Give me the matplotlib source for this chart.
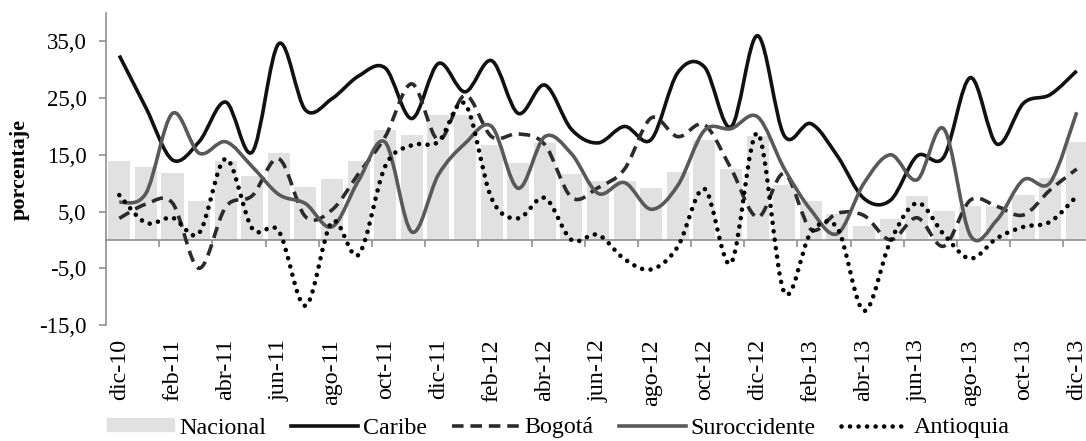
import matplotlib
matplotlib.use('Agg')
import matplotlib.pyplot as plt
import numpy as np
from matplotlib.lines import Line2D
from matplotlib.patches import PathPatch
from matplotlib.path import Path

plt.rcParams['font.family'] = ['Liberation Serif', 'DejaVu Serif']

months = ['dic-10', 'ene-11', 'feb-11', 'mar-11', 'abr-11', 'may-11', 'jun-11',
          'jul-11', 'ago-11', 'sep-11', 'oct-11', 'nov-11', 'dic-11', 'ene-12',
          'feb-12', 'mar-12', 'abr-12', 'may-12', 'jun-12', 'jul-12', 'ago-12',
          'sep-12', 'oct-12', 'nov-12', 'dic-12', 'ene-13', 'feb-13', 'mar-13',
          'abr-13', 'may-13', 'jun-13', 'jul-13', 'ago-13', 'sep-13', 'oct-13',
          'nov-13', 'dic-13']

nacional = [13.9, 12.8, 11.8, 6.9, 13.9, 11.2, 15.4, 9.4, 10.7, 13.9, 19.3,
            18.5, 22.0, 22.1, 16.8, 13.5, 17.0, 11.6, 10.3, 10.4, 9.1, 11.9,
            17.7, 12.5, 18.3, 9.7, 6.9, 4.6, 2.5, 3.7, 7.7, 5.1, 5.9, 5.9,
            8.0, 11.0, 17.2]
caribe = [32.5, 23.3, 14.1, 17.3, 24.3, 15.5, 34.6, 22.9, 24.9, 28.9, 30.3,
          21.4, 31.1, 26.1, 31.6, 22.3, 27.3, 19.5, 17.1, 20.0, 17.7, 29.5,
          30.5, 19.9, 36.0, 18.4, 20.5, 14.8, 7.3, 7.0, 14.8, 14.6, 28.6, 16.9,
          24.1, 25.6, 29.8]
bogota = [3.8, 6.3, 6.5, -5.0, 5.8, 7.8, 14.3, 4.1, 5.3, 11.7, 18.2, 27.5,
          17.6, 25.5, 18.2, 18.7, 16.8, 7.5, 9.2, 12.5, 21.5, 18.2, 20.3, 12.6,
          4.0, 11.7, 1.9, 4.7, 4.3, 0.0, 3.9, -1.1, 7.0, 5.9, 4.4, 8.8, 12.5]
suroccidente = [6.6, 8.2, 22.3, 15.3, 17.3, 12.9, 8.0, 6.4, 2.3, 10.5, 17.2,
                1.4, 11.5, 17.0, 20.0, 9.1, 18.2, 15.2, 8.2, 10.1, 5.4, 9.6,
                19.3, 19.6, 21.7, 12.6, 5.3, 1.1, 10.0, 15.0, 10.6, 19.6, 0.8,
                3.5, 10.6, 10.1, 22.5]
antioquia = [7.9, 3.0, 3.9, 1.2, 14.3, 2.0, 1.5, -11.6, 3.2, -2.6, 13.0, 16.7,
             17.3, 24.0, 7.3, 3.8, 7.4, 0.0, 0.9, -3.4, -5.2, -1.2, 9.0, -4.1,
             18.8, -9.2, 1.2, 2.1, -12.5, -0.2, 6.5, 1.0, -3.3, 0.3, 2.3, 3.2,
             7.7]

yticks = [-15, -5, 5, 15, 25, 35]

AXIS_GRAY = '#868686'


def smooth_path(x, y):
    # Excel-like smoothed line: cubic bezier segments through every point
    x = np.asarray(x, dtype=float)
    y = np.asarray(y, dtype=float)
    px = np.concatenate([[x[0]], x, [x[-1]]])
    py = np.concatenate([[y[0]], y, [y[-1]]])
    verts = [(x[0], y[0])]
    codes = [Path.MOVETO]
    for i in range(len(x) - 1):
        c1 = (x[i] + (x[i + 1] - px[i]) / 6, y[i] + (y[i + 1] - py[i]) / 6)
        c2 = (x[i + 1] - (px[i + 3] - x[i]) / 6,
              y[i + 1] - (py[i + 3] - y[i]) / 6)
        verts += [c1, c2, (x[i + 1], y[i + 1])]
        codes += [Path.CURVE4] * 3
    return Path(verts, codes)


fig = plt.figure(figsize=(10.86, 4.41), dpi=100)
ax = fig.add_axes([106 / 1086, 1 - 325 / 441, 984 / 1086, 312 / 441])

x = np.arange(len(months))
ax.bar(x, nacional, width=0.83, color='#e1e1e1', zorder=1)

styles = [
    (caribe, dict(edgecolor='#111111', lw=2.6, linestyle='-')),
    (bogota, dict(edgecolor='#2b2b2b', lw=2.6, linestyle=(0, (3.2, 1.9)))),
    (suroccidente, dict(edgecolor='#595959', lw=2.6, linestyle='-')),
    (antioquia, dict(edgecolor='#000000', lw=3.3,
                     linestyle=(0, (0.01, 1.85)), capstyle='round')),
]
for vals, kw in styles:
    ax.add_patch(PathPatch(smooth_path(x, vals), fill=False, zorder=3, **kw))

ax.set_xlim(-0.5, len(months) - 0.5)
ax.set_ylim(-15, 40)

for s in ['top', 'right']:
    ax.spines[s].set_visible(False)
ax.spines['left'].set_color(AXIS_GRAY)
ax.spines['left'].set_linewidth(1.1)
ax.spines['bottom'].set_position(('data', 0))
ax.spines['bottom'].set_color(AXIS_GRAY)
ax.spines['bottom'].set_linewidth(1.1)
ax.spines['bottom'].set_zorder(2)

ax.set_xticks(np.arange(1.5, len(months) - 0.5, 2))
ax.tick_params(axis='x', direction='out', length=5, width=1.1,
               color=AXIS_GRAY, labelbottom=False)
ax.set_yticks(yticks)
ax.set_yticklabels([f'{v:.1f}'.replace('.', ',') for v in yticks])
ax.tick_params(axis='y', direction='out', length=5, width=1.1,
               color=AXIS_GRAY, labelsize=16.5, pad=9)

sec = ax.secondary_xaxis('bottom')
sec.set_xticks(x[::2])
sec.set_xticklabels(months[::2], rotation=90, va='top', ha='center')
sec.tick_params(length=0, pad=10, labelsize=17.3)
sec.spines['bottom'].set_visible(False)

fig.text(20 / 1086, 1 - 169 / 441, 'porcentaje', rotation=90,
         ha='center', va='center', fontsize=16, fontweight='bold')

handles = [
    plt.Rectangle((0, 0), 1, 1, color='#e1e1e1'),
    Line2D([], [], color='#111111', lw=2.6),
    Line2D([], [], color='#2b2b2b', lw=2.6, linestyle=(0, (3.2, 1.9))),
    Line2D([], [], color='#595959', lw=2.6),
    Line2D([], [], color='#000000', lw=3.3, linestyle=(0, (0.01, 1.85)),
           dash_capstyle='round'),
]
labels = ['Nacional', 'Caribe', 'Bogotá', 'Suroccidente', 'Antioquia']
fig.legend(handles, labels, loc='center', ncol=5, frameon=False,
           bbox_to_anchor=(558 / 1086, 1 - 428 / 441), fontsize=17.3,
           handlelength=2.8, handleheight=0.45, handletextpad=0.2,
           columnspacing=1.05, borderpad=0)

fig.savefig('out.png', dpi=100)
